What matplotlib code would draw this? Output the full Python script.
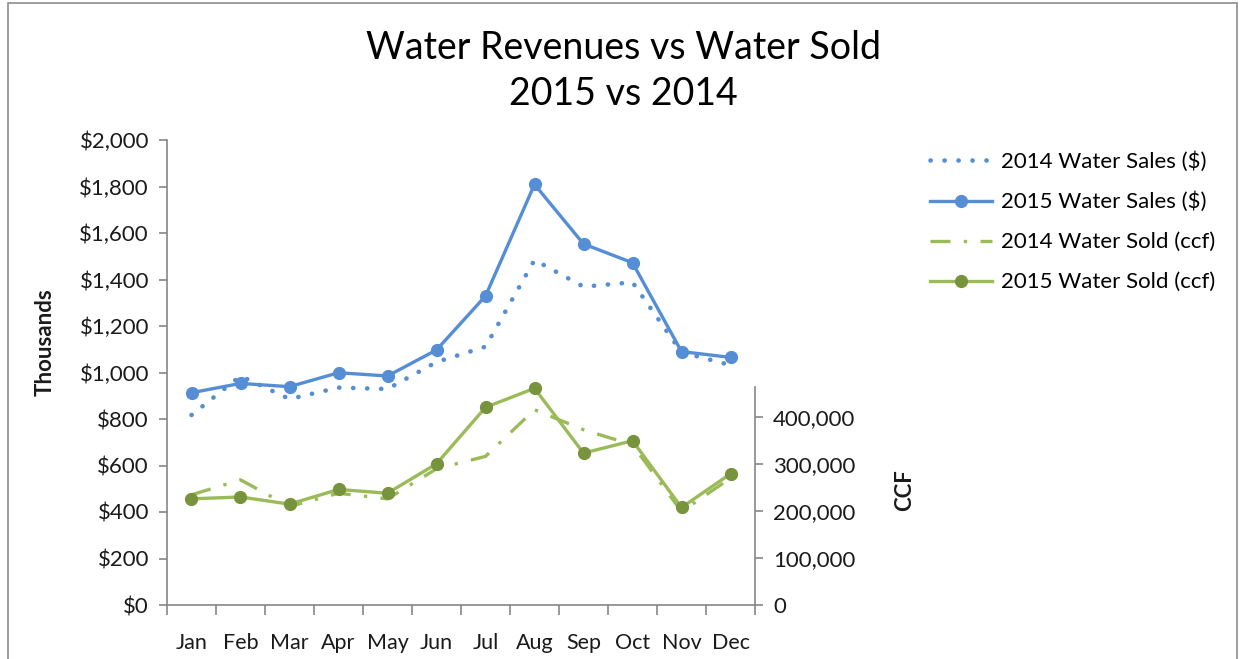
import matplotlib.pyplot as plt
import matplotlib.ticker as mticker
from matplotlib.patches import Rectangle

plt.rcParams['font.family'] = ['Lato', 'DejaVu Sans']

months = ['Jan', 'Feb', 'Mar', 'Apr', 'May', 'Jun', 'Jul', 'Aug', 'Sep', 'Oct', 'Nov', 'Dec']
# water sales, thousands of dollars
sales_2014 = [817, 985, 886, 935, 929, 1045, 1111, 1484, 1369, 1388, 1087, 1032]
sales_2015 = [913, 953, 939, 999, 985, 1097, 1329, 1809, 1553, 1472, 1090, 1065]
# water sold, ccf
sold_2014 = [234500, 266500, 209800, 238000, 226000, 290000, 316400, 415800, 373100, 341000, 199100, 270000]
sold_2015 = [226000, 230000, 214700, 246000, 238000, 300600, 420800, 461300, 323400, 349700, 207600, 279300]

blue = '#558ED5'
green = '#9BBB59'
green_dark = '#77933C'
gray = '#868686'

fig = plt.figure(figsize=(12.41, 6.59), dpi=100)
fig.patches.append(Rectangle((8 / 1241, -0.1), 1229 / 1241, 1.1 - 3 / 659, transform=fig.transFigure,
                             fill=False, edgecolor='#8c8c8c', linewidth=1.2))

ax = fig.add_axes([167 / 1241, 1 - 605 / 659, 588 / 1241, 465 / 659])
ax2 = ax.twinx()

x = list(range(len(months)))

ax.plot(x, sales_2014, color=blue, linewidth=3.3, linestyle=(0, (0.05, 3.0)),
        dash_capstyle='round', label='2014 Water Sales ($)')
ax.plot(x, sales_2015, color=blue, linewidth=2.4, marker='o', markersize=8.5,
        label='2015 Water Sales ($)')
l3, = ax2.plot(x, sold_2014, color=green, linewidth=2.4, label='2014 Water Sold (ccf)')
l3.set_dashes((6, 4, 1, 4))
l4, = ax2.plot(x, sold_2015, color=green, linewidth=2.4, marker='o', markersize=8.5,
               markerfacecolor=green_dark, markeredgecolor=green_dark, label='2015 Water Sold (ccf)')

ax.set_xlim(-0.5, 11.5)
ax.set_ylim(0, 2000)
ax2.set_ylim(0, 990000)

ax.set_yticks(range(0, 2001, 200))
ax.yaxis.set_major_formatter(mticker.FuncFormatter(lambda v, p: '${:,.0f}'.format(v)))
ax.set_xticks(x)
ax.set_xticklabels(months)
ax.set_xticks([i - 0.5 for i in range(13)], minor=True)
ax.tick_params(axis='x', which='major', length=0, pad=20, labelsize=15.5, colors='#1a1a1a')
ax.tick_params(axis='x', which='minor', length=7, color=gray, width=1.2)
ax.tick_params(axis='y', length=6, color=gray, width=1.2, labelsize=16, labelcolor='#1a1a1a', pad=7)

ax2.set_yticks(range(0, 400001, 100000))
ax2.yaxis.set_major_formatter(mticker.FuncFormatter(lambda v, p: '{:,.0f}'.format(v)))
ax2.tick_params(axis='y', length=6, color=gray, width=1.2, labelsize=16, labelcolor='#1a1a1a', pad=7)

for a in (ax, ax2):
    a.spines['top'].set_visible(False)
    for s in a.spines.values():
        s.set_color(gray)
        s.set_linewidth(1.2)
ax.spines['right'].set_visible(False)
ax2.spines['left'].set_visible(False)
ax2.spines['bottom'].set_visible(False)
ax2.spines['right'].set_bounds(0, 465000)

ax.set_ylabel('Thousands', fontsize=16, fontweight='bold', color='#1a1a1a')
ax.yaxis.set_label_coords(-0.19, 0.565)
fig.text(905 / 1241, 1 - 490 / 659, 'CCF', rotation=90, ha='center', va='center',
         fontsize=16, fontweight='bold', color='#1a1a1a')

fig.text(623 / 1241, 1 - 48 / 659, 'Water Revenues vs Water Sold', ha='center', va='center',
         fontsize=27, color='black')
fig.text(623 / 1241, 1 - 94 / 659, '2015 vs 2014', ha='center', va='center',
         fontsize=27, color='black')

handles = ax.get_lines() + ax2.get_lines()
fig.legend(handles, [h.get_label() for h in handles], loc='upper left',
           bbox_to_anchor=(910 / 1241, 1 - 131 / 659), frameon=False, fontsize=16,
           handlelength=2.8, labelspacing=0.9, handletextpad=0.4)

fig.savefig('out.png', dpi=100)
